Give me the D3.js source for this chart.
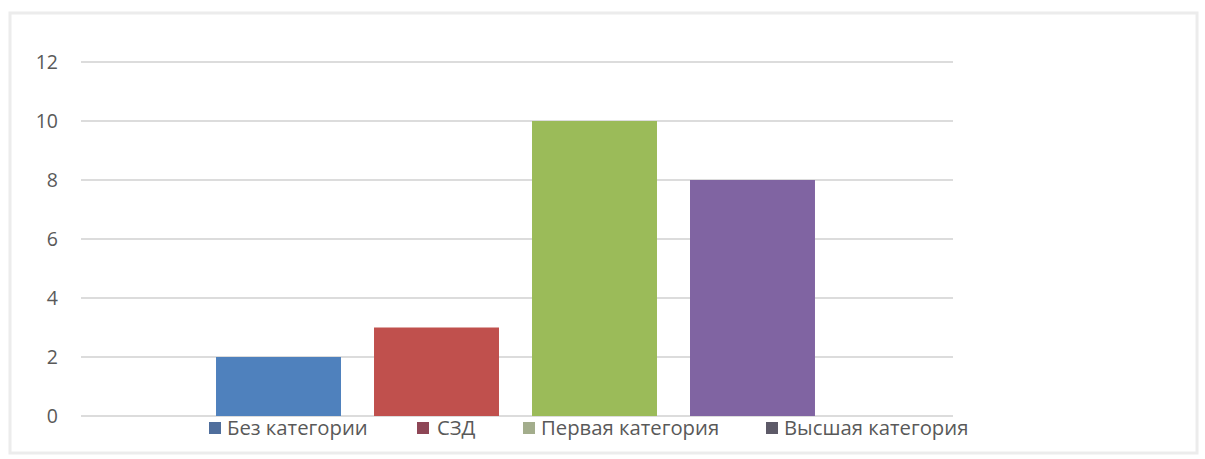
<!DOCTYPE html>
<html>
<head>
<meta charset="utf-8">
<script src="https://d3js.org/d3.v7.min.js"></script>
<style>
  body { margin: 0; background: #fff; }
</style>
</head>
<body>
<div id="chart"></div>
<script>
const categories = ["Без категории", "СЗД", "Первая категория", "Высшая категория"];
const values = [2, 3, 10, 8];
const barColors = ["#4f81bd", "#c0504d", "#9bbb59", "#8064a2"];
const legendColors = ["#4f6e9c", "#8e4656", "#a3ad8c", "#5d5a68"];
const yTicks = [0, 2, 4, 6, 8, 10, 12];

const width = 1205, height = 459;
const font = "'Open Sans', sans-serif";

const svg = d3.create("svg")
    .attr("width", width)
    .attr("height", height)
    .attr("font-family", font);

// frame
svg.append("rect")
    .attr("x", 10).attr("y", 13)
    .attr("width", 1187).attr("height", 440)
    .attr("fill", "none")
    .attr("stroke", "#ececec")
    .attr("stroke-width", 3);

const y = d3.scaleLinear().domain([0, 12]).range([416, 62]);
const x = d3.scaleBand().domain(categories).range([183, 848]).padding(0.209);

// gridlines
svg.append("g")
    .selectAll("line")
    .data(yTicks)
    .join("line")
      .attr("x1", 81).attr("x2", 953)
      .attr("y1", d => y(d)).attr("y2", d => y(d))
      .attr("stroke", "#dcdcdc")
      .attr("stroke-width", 2);

// y labels
svg.append("g")
    .selectAll("text")
    .data(yTicks)
    .join("text")
      .attr("x", 58)
      .attr("y", d => y(d))
      .attr("dy", "0.35em")
      .attr("text-anchor", "end")
      .attr("font-size", 19.5)
      .attr("fill", "#595959")
      .text(d => d);

// bars
svg.append("g")
    .selectAll("rect")
    .data(values)
    .join("rect")
      .attr("x", (d, i) => x(categories[i]))
      .attr("width", x.bandwidth())
      .attr("y", d => y(d))
      .attr("height", d => y(0) - y(d))
      .attr("fill", (d, i) => barColors[i]);

// legend
const legendX = [209, 417, 523, 766];
const legend = svg.append("g")
    .selectAll("g")
    .data(categories)
    .join("g")
      .attr("transform", (d, i) => `translate(${legendX[i]},428)`);

legend.append("rect")
    .attr("x", 0).attr("y", -6)
    .attr("width", 12).attr("height", 12)
    .attr("fill", (d, i) => legendColors[i]);

legend.append("text")
    .attr("x", (d, i) => i === 1 ? 20 : 18)
    .attr("dy", "0.35em")
    .attr("font-size", 20.3)
    .attr("fill", "#595959")
    .text(d => d);

document.getElementById("chart").appendChild(svg.node());
</script>
</body>
</html>
